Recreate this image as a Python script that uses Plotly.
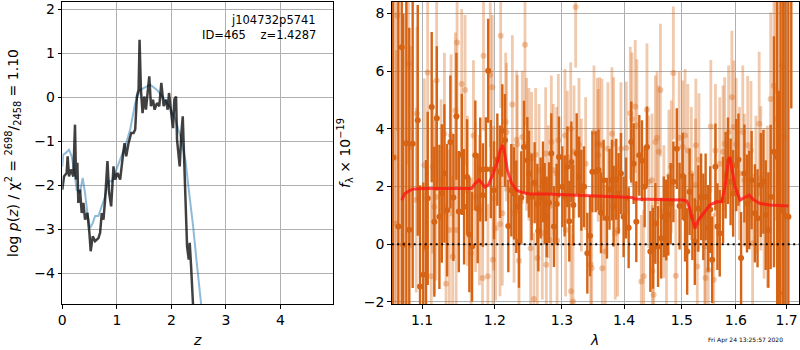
import numpy as np
import plotly.graph_objects as go

# ---------------- left panel: log p(z) ----------------
pz_z = [0.0, 0.031, 0.080, 0.098, 0.123, 0.160, 0.202, 0.233, 0.252, 0.276, 0.294, 0.325, 0.356, 0.387,
        0.417, 0.460, 0.497, 0.521, 0.558, 0.601, 0.663, 0.693, 0.724, 0.755, 0.785, 0.828, 0.859, 0.896,
        0.939, 0.969, 1.012, 1.061, 1.110, 1.141, 1.172, 1.215, 1.264, 1.307, 1.337, 1.368, 1.399, 1.417,
        1.442, 1.472, 1.503, 1.534, 1.564, 1.595, 1.626, 1.663, 1.693, 1.736, 1.779, 1.816, 1.859, 1.902,
        1.933, 1.957, 1.982, 2.006, 2.031, 2.055, 2.086, 2.104, 2.135, 2.153, 2.184, 2.209, 2.227, 2.258,
        2.288, 2.319, 2.337, 2.362, 2.387, 2.411]
pz_logp = [-2.10, -1.80, -1.72, -1.34, -1.80, -1.64, -1.80, -0.62, -1.87, -1.49, -2.40, -2.10, -2.63, -2.40,
           -2.78, -2.63, -3.08, -3.50, -3.16, -3.27, -3.20, -3.08, -2.63, -2.78, -2.33, -1.45, -2.17, -2.48,
           -1.57, -1.87, -1.72, -1.87, -1.34, -1.04, -1.34, -1.04, -0.81, -0.81, -0.73, 0.02, 0.17, 1.31,
           0.17, -0.36, 0.02, -0.28, 0.10, 0.48, -0.20, -0.05, -0.28, -0.13, -0.20, 0.33, -0.20, -0.05,
           -0.28, 0.10, -0.20, -0.43, -0.70, -0.05, 0.02, -0.96, -1.27, -1.57, -0.81, -0.43, -1.11, -2.33,
           -3.39, -3.69, -3.31, -3.84, -4.67, -5.05]

smooth_z = [0.0, 0.018, 0.061, 0.123, 0.172, 0.215, 0.264, 0.325, 0.374, 0.417, 0.460, 0.509, 0.558, 0.601,
            0.663, 0.724, 0.785, 0.847, 0.908, 0.969, 1.061, 1.153, 1.245, 1.337, 1.429, 1.552, 1.613, 1.736,
            1.859, 1.982, 2.074, 2.166, 2.258, 2.319, 2.399, 2.472, 2.546, 2.595, 2.70]
smooth_logp = [-1.57, -1.30, -1.27, -1.19, -1.34, -1.64, -2.10, -2.17, -1.83, -2.17, -2.63, -2.97, -2.86, -2.70,
               -2.70, -2.48, -2.25, -1.91, -1.91, -1.72, -1.42, -1.11, -0.73, -0.13, 0.17, 0.25, 0.29, 0.17,
               -0.02, -0.24, -0.51, -0.89, -1.42, -2.10, -2.93, -3.84, -4.67, -5.28, -6.5]

# ---------------- right panel: spectrum ----------------
dark_wave = [1.0625, 1.0694, 1.0737, 1.0757, 1.0796, 1.0834, 1.0878, 1.0944, 1.0974, 1.1017, 1.1053, 1.1075,
             1.1128, 1.1163, 1.1196, 1.1231, 1.1263, 1.1298, 1.1334, 1.1379, 1.1420, 1.1461, 1.1494, 1.1535,
             1.1567, 1.1608, 1.1640, 1.1677, 1.1723, 1.1756, 1.1792, 1.1830, 1.1872, 1.1904, 1.1942, 1.1988,
             1.2035, 1.2073, 1.2107, 1.2145, 1.2194, 1.2238, 1.2277, 1.2311, 1.2350, 1.2384, 1.2424, 1.2474,
             1.2498, 1.2538, 1.2583, 1.2624, 1.2639, 1.2674, 1.2709, 1.2735, 1.2765, 1.2801, 1.2836, 1.2877,
             1.2918, 1.2955, 1.3006, 1.3042, 1.3084, 1.3115, 1.3147, 1.3178, 1.3231, 1.3268, 1.3305, 1.3347,
             1.3400, 1.3443, 1.3481, 1.3534,
             1.3580, 1.3620, 1.3663, 1.3718, 1.3760, 1.3800, 1.3827, 1.3871, 1.3910, 1.3949, 1.3993, 1.4035,
             1.4078, 1.4122, 1.4162, 1.4207, 1.4258, 1.4303, 1.4349, 1.4389, 1.4447, 1.4493, 1.4534, 1.4581,
             1.4635, 1.4682, 1.4724, 1.4760, 1.4802, 1.4850, 1.4911, 1.4960, 1.5016, 1.5059, 1.5097, 1.5140,
             1.5191, 1.5235, 1.5299, 1.5350,
             1.5391, 1.5433, 1.5481, 1.5518, 1.5554, 1.5615, 1.5652, 1.5695, 1.5757, 1.5806, 1.5850, 1.5900,
             1.5949, 1.6006, 1.6050, 1.6100, 1.6164, 1.6214, 1.6259, 1.6304, 1.6368, 1.6420, 1.6484, 1.6535,
             1.6581, 1.6633, 1.6679, 1.6744, 1.6810, 1.6843, 1.6876, 1.6929, 1.6975, 1.7035, 1.7095]
dark_flux = [3.0, 0.61, 6.82, -0.02, 3.5, 0.50, 3.48, 4.29, -1.46, -1.06, -0.08, 1.59,
             4.75, 0.78, 4.36, 0.95, 1.76, 2.45, 1.18, 3.54, 1.62, 4.43, 1.13, 3.11,
             1.30, 2.33, 0.34, -0.08, 3.08, 1.24, 2.59, 1.70, 2.60, 6.01, 2.60, 1.87,
             2.93, 2.51, 3.94, 3.60, 0.63, 1.87, 1.76, 1.30, 0.09, 1.62, 3.37, 2.91,
             2.43, 1.64, 2.13, 1.39, 0.46, 1.60, 2.16, 1.41, 0.95, 1.44, 3.14, 0.61,
             1.39, 3.02, 1.99, 1.67, 2.68, 0.80, 2.85, 1.36, 3.14, 2.33, 1.87, 1.99,
             -0.31, 0.29, 2.51, 2.51,
             2.57, 1.09, 2.22, 0.90, 1.90, 2.22, 1.32, 2.25, 1.76, 2.45, 0.95, 1.60,
             0.57, 3.54, 2.79, 0.78, 3.08, 2.89, 1.99, 3.37, -0.25, -0.14, 0.72, -0.08,
             0.21, 0.95, 0.84, 1.01, 1.41, 2.16, 3.31, 1.32, 2.36, 0.90, -0.25, 1.82,
             0.95, 0.09, 1.24, 1.64,
             0.95, 1.64, 0.55, 1.20, -0.54, 2.68, 0.61, 0.38, 1.53, 2.39, 2.89, 2.16,
             1.76, 2.74, 2.93, -0.48, 2.45, 1.41, 1.53, 2.22, 1.07, 0.90, 2.05, 2.16,
             1.01, 0.49, 1.64, 3.20, 3.02, -1.69, 1.30, 1.15, 0.98, 0.95, 10.5]
dark_err = [12, 10, 9, 8, 8, 7, 5, 4, 3.5, 3.2, 3.0, 3.0,
            2.6, 2.6, 2.5, 2.5, 2.4, 2.4, 2.3, 2.3, 2.2, 2.2, 2.1, 2.1,
            2.0, 2.0, 2.0, 1.9, 1.9, 1.9, 1.8, 1.8, 1.8, 1.8, 1.7, 1.7,
            1.6, 1.6, 1.6, 1.6, 1.6, 1.6, 1.6, 1.6, 1.6, 1.6, 1.6, 1.5,
            1.5, 1.5, 1.4, 1.4, 1.4, 1.4, 1.4, 1.4, 1.4, 1.4, 1.4, 1.4,
            1.4, 1.4, 1.4, 1.4, 1.4, 1.4, 1.4, 1.4, 1.4, 1.4, 1.4, 1.4,
            1.4, 1.4, 1.4, 1.4,
            1.4, 1.4, 1.4, 1.4, 1.4, 1.4, 1.4, 1.4, 1.4, 1.4, 1.4, 1.4,
            1.4, 1.4, 1.4, 1.4, 1.4, 1.4, 1.4, 1.4, 1.4, 1.4, 1.4, 1.4,
            1.4, 1.4, 1.4, 1.4, 1.4, 1.4, 1.4, 1.5, 1.5, 1.5, 1.5, 1.5,
            1.5, 1.5, 1.5, 1.5,
            1.5, 1.5, 1.5, 1.5, 1.5, 1.5, 1.5, 1.5, 1.5, 1.5, 1.5, 1.5,
            1.5, 1.6, 1.6, 1.6, 1.7, 1.7, 1.7, 1.7, 1.7, 1.7, 1.8, 1.8,
            1.9, 2.0, 2.5, 4.0, 6.0, 7.0, 8.0, 9.0, 9.0, 10.0, 5.8]

light_wave = [1.0650, 1.0667, 1.0679, 1.0822, 1.0856, 1.0925, 1.0934, 1.1031, 1.1074, 1.1122, 1.1141, 1.1163,
              1.1186, 1.1194, 1.1253, 1.1298, 1.1320, 1.1365, 1.1388, 1.1410, 1.1447, 1.1458, 1.1470, 1.1534,
              1.1580, 1.1613, 1.1664, 1.1697, 1.1725, 1.1781, 1.1824, 1.1838, 1.1900, 1.1934, 1.1963, 1.1972,
              1.1984, 1.2011, 1.2073, 1.2083, 1.2107, 1.2155, 1.2169, 1.2253, 1.2277, 1.2316, 1.2326, 1.2350,
              1.2399, 1.2439, 1.2464, 1.2498, 1.2523, 1.2538, 1.2573, 1.2598, 1.2624, 1.2649, 1.2699, 1.2750,
              1.2760, 1.2791, 1.2826, 1.2836, 1.2867, 1.2918, 1.2925, 1.2944, 1.3047, 1.3057, 1.3084, 1.3137,
              1.3142, 1.3173, 1.3189, 1.3215, 1.3268, 1.3305, 1.3373, 1.3454, 1.3470, 1.3507, 1.3561, 1.3575,
              1.3598, 1.3636, 1.3642, 1.3690, 1.3734, 1.3800, 1.3827, 1.3855, 1.3893, 1.3949, 1.4039, 1.4105,
              1.4133, 1.4189, 1.4217, 1.4292, 1.4332, 1.4389, 1.4418, 1.4476, 1.4482, 1.4505, 1.4534, 1.4563,
              1.4593, 1.4622, 1.4682, 1.4729, 1.4771, 1.4813, 1.4850, 1.4893, 1.4954, 1.5016, 1.5059, 1.5109,
              1.5172, 1.5248, 1.5254, 1.5280, 1.5310, 1.5417, 1.5430, 1.5481, 1.5529, 1.5584, 1.5615, 1.5695,
              1.5757, 1.5788, 1.5862, 1.5924, 1.5962, 1.6006, 1.6069, 1.6133, 1.6164, 1.6228, 1.6291, 1.6323,
              1.6388, 1.6452, 1.6484, 1.6548, 1.6614, 1.6679, 1.6744, 1.6784, 1.6810, 1.6909, 1.6956]
light_flux = [3.0, 0.72, 7.91, 6.26, 3.37, 1.53, 4.52, 2.74, 5.95, -1.11, 2.68, 1.30,
              1.64, 5.67, 2.22, 3.83, -1.37, 0.49, 3.77, -0.43, 4.63, 0.49, 6.99, 5.55,
              5.34, 1.85, -0.31, 3.77, 1.64, 1.18, -1.17, 6.53, -1.11, 5.87, 5.44, -0.54,
              1.59, 0.55, 0.70, 7.22, 1.07, 4.23, 3.89, 4.84, 1.07, 3.62, 3.46, -0.57,
              3.71, 6.91, 3.46, 3.11, -0.14, 2.97, -1.90, 3.11, -0.48, 2.56, 0.38, 3.14,
              -0.71, 1.82, 0.15, 3.54, 2.56, 2.45, 0.13, 3.60, 3.77, 0.49, 3.02, 4.00,
              -1.63, -1.98, 3.20, 8.22, 3.46, 2.05, 2.79, -0.71, -0.83, 3.89, 3.46, 3.08,
              3.48, 3.43, -0.83, -0.25, 3.31, 3.83, 3.48, 0.38, 0.49, 3.31, 3.33, 4.54,
              4.34, 4.77, 4.11, -1.29, -1.11, 4.66, 2.16, 2.22, -0.94, -1.75, 3.54, 3.69,
              3.20, 5.34, 1.13, -0.31, 2.36, 2.68, 5.93, -1.09, 3.69, 3.37, 3.77, 3.25,
              2.45, 2.05, 3.43, -0.77, 2.93, -0.08, -1.17, -0.89, 4.08, -1.23, 3.25, 2.79,
              3.20, 3.48, 3.89, 5.09, 4.06, 3.46, 2.45, 3.89, 2.22, 3.43, 3.25, 0.03,
              2.05, 4.17, 2.28, 1.41, 1.30, 5.03, 5.49, 5.32, 4.34, 6.18, 3.71]
light_err = [10, 6, 4, 3.5, 3.5, 3.2, 3.0, 3.0, 3.0, 3.0, 3.0, 3.0,
             2.9, 2.9, 2.8, 2.8, 2.8, 2.8, 2.8, 2.8, 2.7, 2.7, 2.7, 2.6,
             2.6, 2.6, 2.6, 2.6, 2.6, 2.6, 2.6, 2.6, 2.5, 2.5, 2.5, 2.5,
             2.5, 2.5, 2.5, 2.5, 2.5, 2.4, 2.4, 2.4, 2.4, 2.4, 2.4, 2.4,
             2.3, 2.8, 2.3, 2.3, 2.3, 2.3, 2.3, 2.3, 2.3, 2.3, 2.3, 2.3,
             2.3, 2.3, 2.3, 2.3, 2.3, 2.3, 2.3, 2.3, 2.3, 2.3, 2.3, 2.3,
             2.3, 2.3, 2.3, 2.1, 2.3, 2.3, 2.3, 2.3, 2.3, 2.3, 2.3, 2.3,
             2.3, 2.3, 2.3, 2.3, 2.3, 2.3, 2.3, 2.3, 2.3, 2.3, 2.3, 2.3,
             2.3, 2.3, 2.3, 2.3, 2.3, 2.3, 2.3, 2.3, 2.3, 2.3, 2.3, 2.3,
             2.3, 2.3, 2.3, 2.3, 2.3, 2.3, 2.3, 2.3, 2.3, 2.3, 2.3, 2.3,
             2.3, 2.3, 2.3, 2.3, 2.3, 2.3, 2.3, 2.3, 2.3, 2.3, 2.3, 2.3,
             2.3, 2.3, 2.3, 2.3, 2.3, 2.3, 2.3, 2.3, 2.3, 2.4, 2.4, 2.4,
             2.4, 2.5, 2.5, 2.6, 2.8, 3.0, 4.0, 4.5, 5.0, 6.0, 7.0]

model_wave = [1.0737, 1.0779, 1.0866, 1.1000, 1.1670, 1.1718, 1.1774, 1.1812, 1.1859, 1.1906, 1.1977, 1.2041,
              1.2074, 1.2113, 1.2142, 1.2180, 1.2244, 1.2317, 1.2415, 1.2515, 1.2766, 1.3126, 1.3552, 1.3934,
              1.4130, 1.4186, 1.4615, 1.5027, 1.5088, 1.5135, 1.5178, 1.5238, 1.5299, 1.5390, 1.5513, 1.5638,
              1.5732, 1.5794, 1.5857, 1.5889, 1.5921, 1.5984, 1.6080, 1.6259, 1.6337, 1.6468, 1.6666, 1.7035]
model_flux = [1.53, 1.76, 1.90, 1.93, 1.93, 2.10, 2.22, 2.13, 1.98, 2.05, 2.45, 2.90,
              3.25, 3.43, 3.14, 2.56, 2.10, 1.87, 1.78, 1.74, 1.74, 1.71, 1.67, 1.64,
              1.62, 1.57, 1.55, 1.53, 1.50, 1.30, 0.95, 0.55, 0.84, 1.07, 1.36, 1.47,
              1.47, 1.99, 2.90, 3.02, 2.68, 1.99, 1.53, 1.70, 1.55, 1.41, 1.36, 1.32]

x_lim_right = [1.0609, 1.7253]

left_xticks = [0, 1, 2, 3, 4]
left_yticks = [-4, -3, -2, -1, 0, 1, 2]
right_xticks = [1.1, 1.2, 1.3, 1.4, 1.5, 1.6, 1.7]
right_yticks = [-2, 0, 2, 4, 6, 8]

# ---------------- figure ----------------
W, H = 800, 350
FONT = "DejaVu Sans"
DARK = "rgb(214,100,20)"
LIGHT = "rgba(214,100,20,0.35)"

fig = go.Figure()

fig.add_trace(go.Scatter(x=smooth_z, y=smooth_logp, mode="lines",
                         line=dict(color="rgba(31,119,180,0.5)", width=2),
                         xaxis="x", yaxis="y", showlegend=False, hoverinfo="skip"))
fig.add_trace(go.Scatter(x=pz_z, y=pz_logp, mode="lines",
                         line=dict(color="rgba(0,0,0,0.75)", width=2.5),
                         xaxis="x", yaxis="y", showlegend=False, hoverinfo="skip"))

fig.add_trace(go.Scatter(x=dark_wave, y=dark_flux, mode="markers",
                         marker=dict(color=DARK, size=6, line=dict(width=0)),
                         error_y=dict(type="data", array=dark_err, color=DARK, thickness=2.4, width=0),
                         xaxis="x2", yaxis="y2", showlegend=False, hoverinfo="skip"))
fig.add_trace(go.Scatter(x=light_wave, y=light_flux, mode="markers",
                         marker=dict(color=LIGHT, size=6, line=dict(width=0)),
                         error_y=dict(type="data", array=light_err, color=LIGHT, thickness=2.8, width=0),
                         xaxis="x2", yaxis="y2", showlegend=False, hoverinfo="skip"))
fig.add_trace(go.Scatter(x=model_wave, y=model_flux, mode="lines",
                         line=dict(color="rgba(255,20,20,0.78)", width=3),
                         xaxis="x2", yaxis="y2", showlegend=False, hoverinfo="skip"))
fig.add_trace(go.Scatter(x=x_lim_right, y=[0, 0], mode="lines",
                         line=dict(color="black", width=2, dash="2px,3.5px"),
                         xaxis="x2", yaxis="y2", showlegend=False, hoverinfo="skip"))

ax_common = dict(showline=True, mirror=True, linecolor="black", linewidth=1.1,
                 ticks="outside", ticklen=3.5, tickwidth=1.1, tickcolor="black",
                 showgrid=True, gridcolor="#b0b0b0", gridwidth=1, zeroline=False, automargin=False,
                 tickfont=dict(family=FONT, size=14, color="black"))

ydom = [1 - 304 / H, 1 - 2 / H]
fig.update_layout(
    width=W, height=H, margin=dict(l=0, r=0, t=0, b=0, autoexpand=False),
    paper_bgcolor="white", plot_bgcolor="white",
    font=dict(family=FONT, color="black"),
    xaxis=dict(domain=[62.3 / W, 333.3 / W], range=[0, 4.97], tickvals=left_xticks,
               anchor="y", **ax_common),
    yaxis=dict(domain=ydom, range=[-4.70, 2.17], tickvals=left_yticks, anchor="x", **ax_common),
    xaxis2=dict(domain=[391.7 / W, 799 / W], type="log",
                range=[np.log10(x_lim_right[0]), np.log10(x_lim_right[1])],
                tickvals=right_xticks, ticktext=[f"{v:.1f}" for v in right_xticks],
                anchor="y2", **ax_common),
    yaxis2=dict(domain=ydom, range=[-2.07, 8.39], tickvals=right_yticks, anchor="x2", **ax_common),
)

ann = [
    dict(text="j104732p5741", x=318 / W, y=1 - 20 / H, xanchor="right", yanchor="middle",
         font=dict(size=11.5)),
    dict(text="ID=465\u00a0\u00a0\u00a0\u00a0z=1.4287", x=318 / W, y=1 - 35 / H, xanchor="right",
         yanchor="middle", font=dict(size=11.5)),
    dict(text="<i>z</i>", x=197.8 / W, y=1 - 340 / H, xanchor="center", yanchor="middle",
         font=dict(size=14)),
    dict(text="<i>λ</i>", x=594 / W, y=1 - 340 / H, xanchor="center", yanchor="middle",
         font=dict(size=14)),
    dict(text="log <i>p</i>(<i>z</i>) / χ<sup>2</sup> = <sup>2698</sup>/<sub>2458</sub> = 1.10",
         x=13 / W, y=1 - 153 / H, xanchor="center", yanchor="middle", textangle=-90,
         font=dict(size=14)),
    dict(text="<i>f</i><sub>λ</sub> × 10<sup>−19</sup>", x=345 / W, y=1 - 153 / H,
         xanchor="center", yanchor="middle", textangle=-90, font=dict(size=14)),
    dict(text="Fri Apr 24 13:25:57 2020", x=745 / W, y=1 - 340 / H, xanchor="center",
         yanchor="middle", font=dict(size=6)),
]
for a in ann:
    a.update(xref="paper", yref="paper", showarrow=False)
    a["font"].update(family=FONT, color="black")
fig.update_layout(annotations=ann)

fig.write_html("out.html", config={"displayModeBar": False},
               post_script="document.body.style.margin='0';document.body.style.overflow='hidden';")
